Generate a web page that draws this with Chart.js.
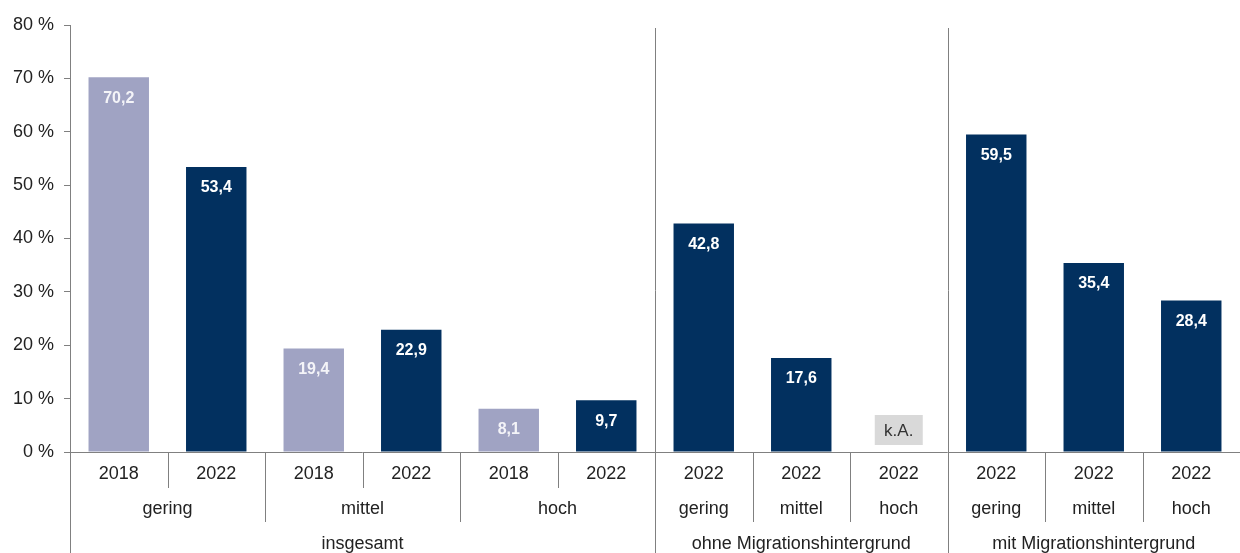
<!DOCTYPE html>
<html>
<head>
<meta charset="utf-8">
<script src="https://cdn.jsdelivr.net/npm/chart.js@4"></script>
<style>
    body { margin: 0; background: #fff; }
    #wrap { width: 1240px; height: 553px; }
</style>
</head>
<body>
<div id="wrap"><canvas id="eduChart"></canvas></div>
<script>
// Data
const years = ['2018', '2022', '2018', '2022', '2018', '2022', '2022', '2022', '2022', '2022', '2022', '2022'];
const levels = ['gering', 'gering', 'mittel', 'mittel', 'hoch', 'hoch', 'gering', 'mittel', 'hoch', 'gering', 'mittel', 'hoch'];
const groups = ['insgesamt', 'insgesamt', 'insgesamt', 'insgesamt', 'insgesamt', 'insgesamt',
    'ohne Migrationshintergrund', 'ohne Migrationshintergrund', 'ohne Migrationshintergrund',
    'mit Migrationshintergrund', 'mit Migrationshintergrund', 'mit Migrationshintergrund'];
const values = [70.2, 53.4, 19.4, 22.9, 8.1, 9.7, 42.8, 17.6, null, 59.5, 35.4, 28.4];
const noDataText = 'k.A.';

const colorOld = '#a0a3c3';
const colorNew = '#02305f';
const lineColor = '#808080';
const textColor = '#222';
const fontFamily = '"Liberation Sans", Arial, sans-serif';

const fmt = (v) => v.toFixed(1).replace('.', ',');

// Value labels inside bars + k.A. box
const valueLabels = {
    id: 'valueLabels',
    afterDatasetsDraw(chart) {
        const ctx = chart.ctx;
        const meta = chart.getDatasetMeta(0);
        const yScale = chart.scales.y;
        const xScale = chart.scales.x;
        ctx.save();
        ctx.textAlign = 'center';
        ctx.textBaseline = 'middle';
        values.forEach((v, i) => {
            if (v === null) {
                const x = xScale.getPixelForValue(i);
                const y = yScale.getPixelForValue(0) - 22;
                ctx.fillStyle = '#d9d9d9';
                ctx.fillRect(x - 24, y - 15, 48, 30);
                ctx.fillStyle = '#333';
                ctx.font = '17px ' + fontFamily;
                ctx.fillText(noDataText, x, y + 1);
                return;
            }
            const bar = meta.data[i];
            ctx.fillStyle = years[i] === '2018' ? '#f4f4f8' : '#ffffff';
            ctx.font = 'bold 16px ' + fontFamily;
            ctx.fillText(fmt(v), bar.x, bar.y + 21);
        });
        ctx.restore();
    }
};

// Multi level category axis drawn under the chart
const multiAxis = {
    id: 'multiAxis',
    afterDraw(chart) {
        const ctx = chart.ctx;
        const area = chart.chartArea;
        const xScale = chart.scales.x;
        const n = years.length;
        const step = (area.right - area.left) / n;
        const base = area.bottom;
        const row1 = base + 22, row2 = base + 57, row3 = base + 92;
        const sep1 = base + 36, sep2 = base + 70, bottom = chart.height;

        ctx.save();
        ctx.strokeStyle = lineColor;
        ctx.lineWidth = 1;

        // baseline
        ctx.beginPath();
        ctx.moveTo(area.left, base + 0.5);
        ctx.lineTo(area.right, base + 0.5);
        ctx.stroke();

        // y axis continues down
        ctx.beginPath();
        ctx.moveTo(area.left + 0.5, base);
        ctx.lineTo(area.left + 0.5, bottom);
        ctx.stroke();

        // separators
        for (let i = 1; i < n; i++) {
            const x = Math.round(area.left + i * step) + 0.5;
            ctx.beginPath();
            if (groups[i] !== groups[i - 1]) {
                ctx.moveTo(x, area.top + 3);
                ctx.lineTo(x, bottom);
            } else if (levels[i] !== levels[i - 1]) {
                ctx.moveTo(x, base);
                ctx.lineTo(x, sep2);
            } else {
                ctx.moveTo(x, base);
                ctx.lineTo(x, sep1);
            }
            ctx.stroke();
        }

        ctx.fillStyle = textColor;
        ctx.font = '18px ' + fontFamily;
        ctx.textAlign = 'center';
        ctx.textBaseline = 'middle';

        // row 1: years
        years.forEach((y, i) => ctx.fillText(y, xScale.getPixelForValue(i), row1));

        // rows 2 and 3: runs of equal keys
        const drawRuns = (keyFn, labelFn, yPos) => {
            let start = 0;
            for (let i = 1; i <= n; i++) {
                if (i === n || keyFn(i) !== keyFn(start)) {
                    const x = area.left + (start + i) / 2 * step;
                    ctx.fillText(labelFn(start), x, yPos);
                    start = i;
                }
            }
        };
        drawRuns(i => groups[i] + '|' + levels[i], i => levels[i], row2);
        drawRuns(i => groups[i], i => groups[i], row3);
        ctx.restore();
    }
};

new Chart(document.getElementById('eduChart'), {
    type: 'bar',
    data: {
        labels: years.map((y, i) => y + ' ' + levels[i]),
        datasets: [{
            data: values,
            backgroundColor: years.map(y => y === '2018' ? colorOld : colorNew),
            barPercentage: 0.62,
            categoryPercentage: 1
        }]
    },
    options: {
        responsive: true,
        maintainAspectRatio: false,
        animation: false,
        layout: { padding: { top: 25, right: 0, bottom: 101, left: 0 } },
        plugins: {
            legend: { display: false },
            tooltip: { enabled: false }
        },
        scales: {
            x: { display: false },
            y: {
                min: 0,
                max: 80,
                afterFit: (scale) => { scale.width = 70; },
                ticks: {
                    stepSize: 10,
                    padding: 10,
                    color: textColor,
                    font: { size: 18, family: fontFamily },
                    callback: (v) => v + ' %'
                },
                grid: { drawOnChartArea: false, drawTicks: true, tickLength: 6, color: lineColor },
                border: { color: lineColor }
            }
        }
    },
    plugins: [valueLabels, multiAxis]
});
</script>
</body>
</html>
